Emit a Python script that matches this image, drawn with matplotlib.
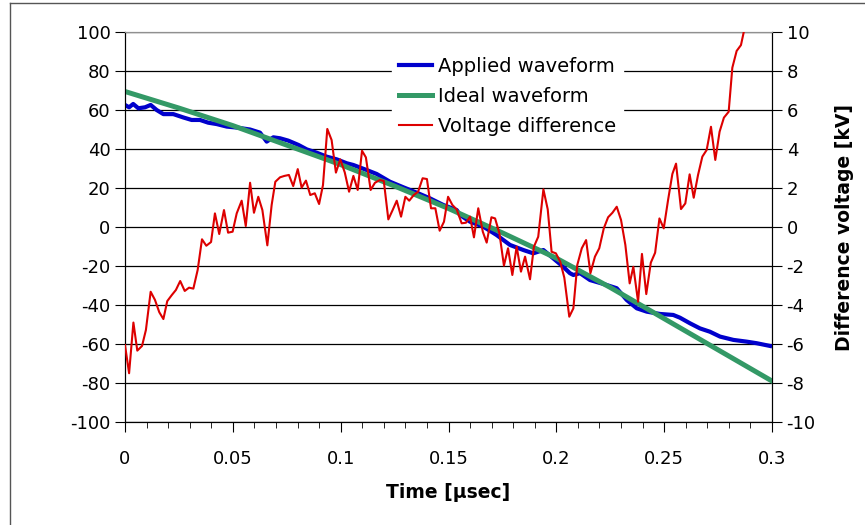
import numpy as np
import matplotlib.pyplot as plt
from matplotlib.ticker import MultipleLocator
from matplotlib.lines import Line2D

plt.rcParams['font.family'] = ['DejaVu Sans']
plt.rcParams['axes.unicode_minus'] = False

# ideal waveform (left axis)
ideal_t = [0.0, 0.025, 0.05, 0.075, 0.1, 0.125, 0.15, 0.175, 0.2, 0.225, 0.25, 0.275, 0.3]
ideal_v = [69.5, 61, 52, 42, 32, 21, 9.5, -3, -16, -31, -47, -63, -79]

# applied waveform (left axis)
applied_t = [0.0, 0.0019, 0.0038, 0.0062, 0.0093, 0.0119, 0.0147, 0.0178, 0.0224, 0.027,
             0.0309, 0.0348, 0.0386, 0.0425, 0.0472, 0.0518, 0.058, 0.0626, 0.0657, 0.0688,
             0.0719, 0.0757, 0.0804, 0.0843, 0.0889, 0.0935, 0.0982, 0.1028, 0.1059, 0.1121,
             0.1167, 0.1229, 0.129, 0.1353, 0.1414, 0.1476, 0.1538, 0.1553, 0.16, 0.1661,
             0.1723, 0.1785, 0.1847, 0.1893, 0.194, 0.1986, 0.2032, 0.2063, 0.2079, 0.211,
             0.2156, 0.2218, 0.228, 0.2326, 0.2373, 0.2419, 0.2481, 0.2542, 0.2573, 0.262,
             0.2666, 0.2712, 0.2759, 0.2821, 0.2883, 0.2929, 0.2991]
applied_v = [62.6, 61.4, 63.1, 60.9, 61.4, 62.6, 60.0, 57.9, 57.9, 56.2,
             54.9, 54.9, 53.5, 52.8, 51.5, 51.0, 50.0, 48.4, 43.8, 46.0,
             45.5, 44.3, 42.1, 39.8, 38.1, 36.1, 34.7, 32.7, 31.8, 29.2,
             27.2, 23.2, 20.4, 17.6, 14.7, 11.3, 8.7, 6.2, 2.7, 0.2,
             -4.1, -9.2, -11.8, -13.5, -11.8, -16.1, -20.4, -23.7, -24.6, -23.7,
             -27.2, -29.2, -31.4, -37.4, -41.7, -43.4, -44.6, -45.1, -46.5, -49.4,
             -52.0, -53.7, -56.2, -57.9, -58.8, -59.6, -61.0]

# voltage difference (right axis, kV)
diff_t = [0.0, 0.0019, 0.0039, 0.0057, 0.0079, 0.0097, 0.0119, 0.0139, 0.0159, 0.0178,
          0.0196, 0.0217, 0.0236, 0.0256, 0.0277, 0.0297, 0.0317, 0.0337, 0.0357, 0.0377,
          0.0399, 0.0417, 0.0437, 0.0459, 0.0478, 0.0499, 0.0518, 0.0541, 0.056, 0.058,
          0.0598, 0.0618, 0.0637, 0.066, 0.068, 0.0697, 0.0719, 0.0739, 0.076, 0.078,
          0.0801, 0.0819, 0.0839, 0.0859, 0.088, 0.09, 0.0918, 0.0938, 0.0958, 0.0978,
          0.0998, 0.1019, 0.1039, 0.1059, 0.1079, 0.1099, 0.1117, 0.1139, 0.1159, 0.1182,
          0.12, 0.1221, 0.1241, 0.126, 0.128, 0.13, 0.1318, 0.1339, 0.1359, 0.138,
          0.14, 0.1419, 0.1439, 0.1459, 0.1479, 0.1498, 0.1518, 0.1538, 0.1561, 0.1581,
          0.16, 0.1618, 0.1638, 0.1659, 0.1677, 0.1699, 0.1716, 0.1736, 0.1757, 0.1776,
          0.1796, 0.1816, 0.1836, 0.1855, 0.1878, 0.1896, 0.1916, 0.194, 0.196, 0.1978,
          0.1998, 0.2018, 0.2037, 0.206, 0.2079, 0.2097, 0.2118, 0.2138, 0.2158, 0.2179,
          0.2199, 0.222, 0.224, 0.226, 0.228, 0.23, 0.232, 0.234, 0.2357, 0.2379,
          0.2397, 0.2417, 0.2438, 0.2458, 0.2478, 0.2498, 0.2518, 0.2538, 0.2555, 0.2578,
          0.2598, 0.2618, 0.2637, 0.2657, 0.2677, 0.2697, 0.2717, 0.2737, 0.2757, 0.2777,
          0.2799, 0.2816, 0.2836, 0.2856, 0.287, 0.289]
diff_v = [-6.05, -7.5, -4.9, -6.34, -6.1, -5.28, -3.32, -3.74, -4.37, -4.72,
          -3.8, -3.49, -3.23, -2.77, -3.28, -3.11, -3.16, -2.2, -0.63, -0.96,
          -0.77, 0.7, -0.36, 0.87, -0.29, -0.24, 0.7, 1.35, 0.05, 2.27,
          0.73, 1.55, 0.87, -0.94, 1.13, 2.32, 2.55, 2.62, 2.67, 2.1,
          2.97, 2.02, 2.38, 1.64, 1.73, 1.18, 2.15, 5.03, 4.46, 2.79,
          3.47, 2.8, 1.81, 2.62, 1.9, 3.91, 3.57, 1.9, 2.27, 2.41,
          2.36, 0.39, 0.87, 1.35, 0.53, 1.55, 1.35, 1.64, 1.81, 2.5,
          2.46, 0.96, 0.96, -0.19, 0.27, 1.55, 1.13, 0.9, 0.19, 0.22,
          0.53, -0.53, 0.96, -0.24, -0.8, 0.5, 0.44, -0.32, -1.98, -1.09,
          -2.46, -1.01, -2.29, -1.52, -2.68, -1.01, -0.5, 1.93, 0.91, -1.27,
          -1.35, -1.78, -2.6, -4.6, -4.17, -1.95, -1.09, -0.67, -2.37, -1.52,
          -1.09, -0.07, 0.5, 0.73, 1.04, 0.36, -0.92, -2.89, -2.04, -3.83,
          -1.38, -3.44, -1.83, -1.32, 0.44, -0.07, 1.38, 2.72, 3.25, 0.92,
          1.21, 2.7, 1.5, 2.67, 3.61, 3.95, 5.14, 3.44, 4.89, 5.61,
          5.91, 8.17, 9.03, 9.33, 10.05, 11.2]

fig = plt.figure(figsize=(8.65, 5.25), dpi=100)
ax = fig.add_axes([0.1445, 0.1962, 0.748, 0.7428])
ax2 = ax.twinx()

ax.plot(applied_t, applied_v, color='#0000CC', lw=3.0, zorder=3)
ax.plot(ideal_t, ideal_v, color='#339966', lw=3.6, zorder=4)
ax2.plot(diff_t, diff_v, color='#DD0000', lw=1.5, zorder=5)

ax.set_xlim(0, 0.3)
ax.set_ylim(-100, 100)
ax2.set_ylim(-10, 10)
ax.set_yticks(np.arange(-100, 101, 20))
ax2.set_yticks(np.arange(-10, 11, 2))
ax.set_xticks([0, 0.05, 0.1, 0.15, 0.2, 0.25, 0.3])
ax.set_xticklabels(['0', '0.05', '0.1', '0.15', '0.2', '0.25', '0.3'])
ax.xaxis.set_minor_locator(MultipleLocator(0.01))
ax.yaxis.grid(True, color='black', lw=0.9)
ax.set_axisbelow(True)

ax.tick_params(axis='both', which='major', direction='out', length=7, labelsize=13, color='black')
ax.tick_params(axis='x', which='minor', direction='out', length=4)
ax.tick_params(axis='x', pad=13)
ax2.tick_params(axis='y', direction='out', length=7, labelsize=13)

for a in (ax, ax2):
    a.spines['top'].set_color('#909090')
    a.spines['bottom'].set_color('black')
    a.spines['left'].set_color('black')
    a.spines['right'].set_color('black')

ax.set_xlabel('Time [µsec]', fontsize=13.5, fontweight='bold', labelpad=11)
ax2.set_ylabel('Difference voltage [kV]', fontsize=13.5, fontweight='bold', labelpad=14)

handles = [Line2D([], [], color='#0000CC', lw=3.0),
           Line2D([], [], color='#339966', lw=3.6),
           Line2D([], [], color='#DD0000', lw=1.5)]
leg = ax2.legend(handles, ['Applied waveform', 'Ideal waveform', 'Voltage difference'],
                 loc='upper left', bbox_to_anchor=(0.413, 0.953), borderaxespad=0,
                 fontsize=14, frameon=True, fancybox=False, handlelength=1.7,
                 handletextpad=0.3, labelspacing=0.55, borderpad=0.35)
leg.get_frame().set_facecolor('white')
leg.get_frame().set_edgecolor('white')
leg.get_frame().set_alpha(1)

# outer frame (left and top edges visible)
fig.add_artist(Line2D([10/865, 10/865], [0, 1 - 3/525], color='#555555', lw=1))
fig.add_artist(Line2D([10/865, 1], [1 - 3/525, 1 - 3/525], color='#555555', lw=1))

fig.savefig('out.png', dpi=100)
